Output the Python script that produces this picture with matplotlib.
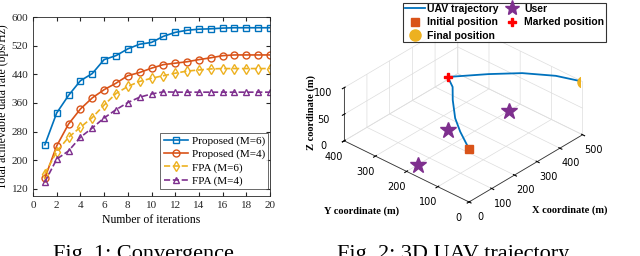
import numpy as np
import matplotlib
matplotlib.use("Agg")
import matplotlib.pyplot as plt
from matplotlib.lines import Line2D

# ---- data: convergence ----
iters = np.arange(1, 21)
prop_m6 = [243, 332, 381, 422, 442, 481, 492, 511, 524, 529, 546, 557, 563, 566, 567, 569, 570, 570, 570, 570]
prop_m4 = [150, 240, 301, 343, 374, 397, 415, 436, 445, 457, 467, 471, 475, 481, 486, 492, 494, 494, 494, 494]
fpa_m6 = [162, 224, 264, 292, 319, 354, 386, 406, 420, 429, 436, 443, 449, 452, 455, 456, 456, 456, 456, 456]
fpa_m4 = [139, 203, 226, 264, 290, 318, 341, 361, 376, 385, 391, 390, 390, 390, 390, 390, 390, 390, 390, 390]
labels_2d = ['Proposed (M=6)', 'Proposed (M=4)', 'FPA (M=6)', 'FPA (M=4)']

# ---- data: 3D trajectory ----
traj_x = [0, 22, 52, 97, 166, 219, 250, 343, 414, 470, 500]
traj_y = [0, 28, 66, 115, 173, 212, 250, 187, 131, 64, 0]
traj_z = [100] * 11
start_pt = (0, 0, 100)
marked_pt = (250, 250, 100)
final_pt = (500, 0, 100)
users_x = [250, 450, 50]
users_y = [250, 200, 200]
users_z = [0, 0, 0]

blue, orange, yellow, purple = '#0072BD', '#D95319', '#EDB120', '#7E2F8E'

fig = plt.figure(figsize=(6.4, 2.56), dpi=100)

### FIG 1 ##########
serif = ['Liberation Serif', 'DejaVu Serif']
ax = fig.add_axes([33/640, 60/256, 237/640, 179/256])
ax.plot(iters, prop_m6, '-s', color=blue, mfc='none', ms=4.5, lw=1.2, label=labels_2d[0])
ax.plot(iters, prop_m4, '-o', color=orange, mfc='none', ms=5, lw=1.2, label=labels_2d[1])
ax.plot(iters, fpa_m6, '--d', color=yellow, mfc='none', ms=5, lw=1.2, label=labels_2d[2])
ax.plot(iters, fpa_m4, '--^', color=purple, mfc='none', ms=5, lw=1.2, label=labels_2d[3])
ax.set_xlim(0, 20)
ax.set_ylim(100, 600)
ax.set_xticks(range(0, 21, 2))
ax.set_yticks(range(120, 601, 80))
ax.tick_params(direction='in', top=True, right=True, labelsize=8, length=3, colors='#262626')
for t in ax.get_xticklabels() + ax.get_yticklabels():
    t.set_family(serif)
for s in ax.spines.values():
    s.set_color('#262626')
    s.set_linewidth(0.6)
ax.set_xlabel('Number of iterations', family=serif, fontsize=8.5, labelpad=3)
ax.set_ylabel('Total achievable data rate (bps/Hz)', family=serif, fontsize=8.5, labelpad=2)
leg = ax.legend(loc='lower right', bbox_to_anchor=(0.992, 0.039),
                prop={'family': serif, 'size': 8}, fancybox=False,
                edgecolor='#262626', borderpad=0.3, labelspacing=0.28, handlelength=2.2,
                handletextpad=0.3, borderaxespad=0)
leg.get_frame().set_linewidth(0.6)

fig.text(143/640, 1 - 245/256, 'Fig. 1: Convergence', family=serif, fontsize=16,
         ha='center', va='top')

### FIG 2 ##########
ax3 = fig.add_axes([0.397, 0.085, 0.644, 0.936], projection='3d')
ax3.set_proj_type('ortho')
ax3.set_box_aspect((1, 1, 0.374))
ax3.view_init(elev=32.6, azim=-137.7)
ax3.plot(traj_x, traj_y, traj_z, '-', color=blue, lw=1.3)
ax3.plot(*[[v] for v in start_pt], 's', color=orange, ms=6)
ax3.plot(users_x, users_y, users_z, '*', color=purple, ms=12, ls='none')
ax3.plot(*[[v] for v in marked_pt], 'P', color='red', ms=6)
ax3.plot(*[[v] for v in final_pt], 'o', color=yellow, ms=8)
ax3.set_xlim(0, 500)
ax3.set_ylim(0, 400)
ax3.set_zlim(0, 100)
ax3.set_xticks(range(0, 501, 100))
ax3.set_yticks(range(0, 401, 100))
ax3.set_zticks([0, 50, 100])
ax3.tick_params(labelsize=7, pad=0)
for a in (ax3.xaxis, ax3.yaxis, ax3.zaxis):
    a.set_pane_color((1, 1, 1, 0))
    a._axinfo['grid']['color'] = '#dddddd'
    a._axinfo['grid']['linewidth'] = 0.5
    a.line.set_color('#333333')
    a.line.set_linewidth(0.6)

bold_serif = dict(family=serif, fontsize=7.5, weight='bold')
fig.text(570/640, 1 - 210/256, 'X coordinate (m)', ha='center', va='center', **bold_serif)
fig.text(362/640, 1 - 211/256, 'Y coordinate (m)', ha='center', va='center', **bold_serif)
fig.text(311/640, 1 - 112/256, 'Z coordinate (m)', ha='center', va='center', rotation=90, **bold_serif)

handles = [Line2D([], [], color=blue, lw=1.3),
           Line2D([], [], marker='s', color=orange, ls='none', ms=6),
           Line2D([], [], marker='o', color=yellow, ls='none', ms=8),
           Line2D([], [], marker='*', color=purple, ls='none', ms=11),
           Line2D([], [], marker='P', color='red', ls='none', ms=6)]
names = ['UAV trajectory', 'Initial position', 'Final position', 'User', 'Marked position']
leg3 = fig.legend(handles, names, ncol=2, loc='upper left', bbox_to_anchor=(403/640, 0.99),
                  prop={'family': 'Liberation Sans', 'size': 7.5, 'weight': 'bold'},
                  fancybox=False, edgecolor='black', borderpad=0.15, labelspacing=0.32,
                  handlelength=2.0, handletextpad=0.15, columnspacing=0.3, borderaxespad=0)
leg3.get_frame().set_linewidth(0.8)

fig.text(453/640, 1 - 245/256, 'Fig. 2: 3D UAV trajectory', family=serif, fontsize=16,
         ha='center', va='top')

fig.savefig('out.png', dpi=100)
